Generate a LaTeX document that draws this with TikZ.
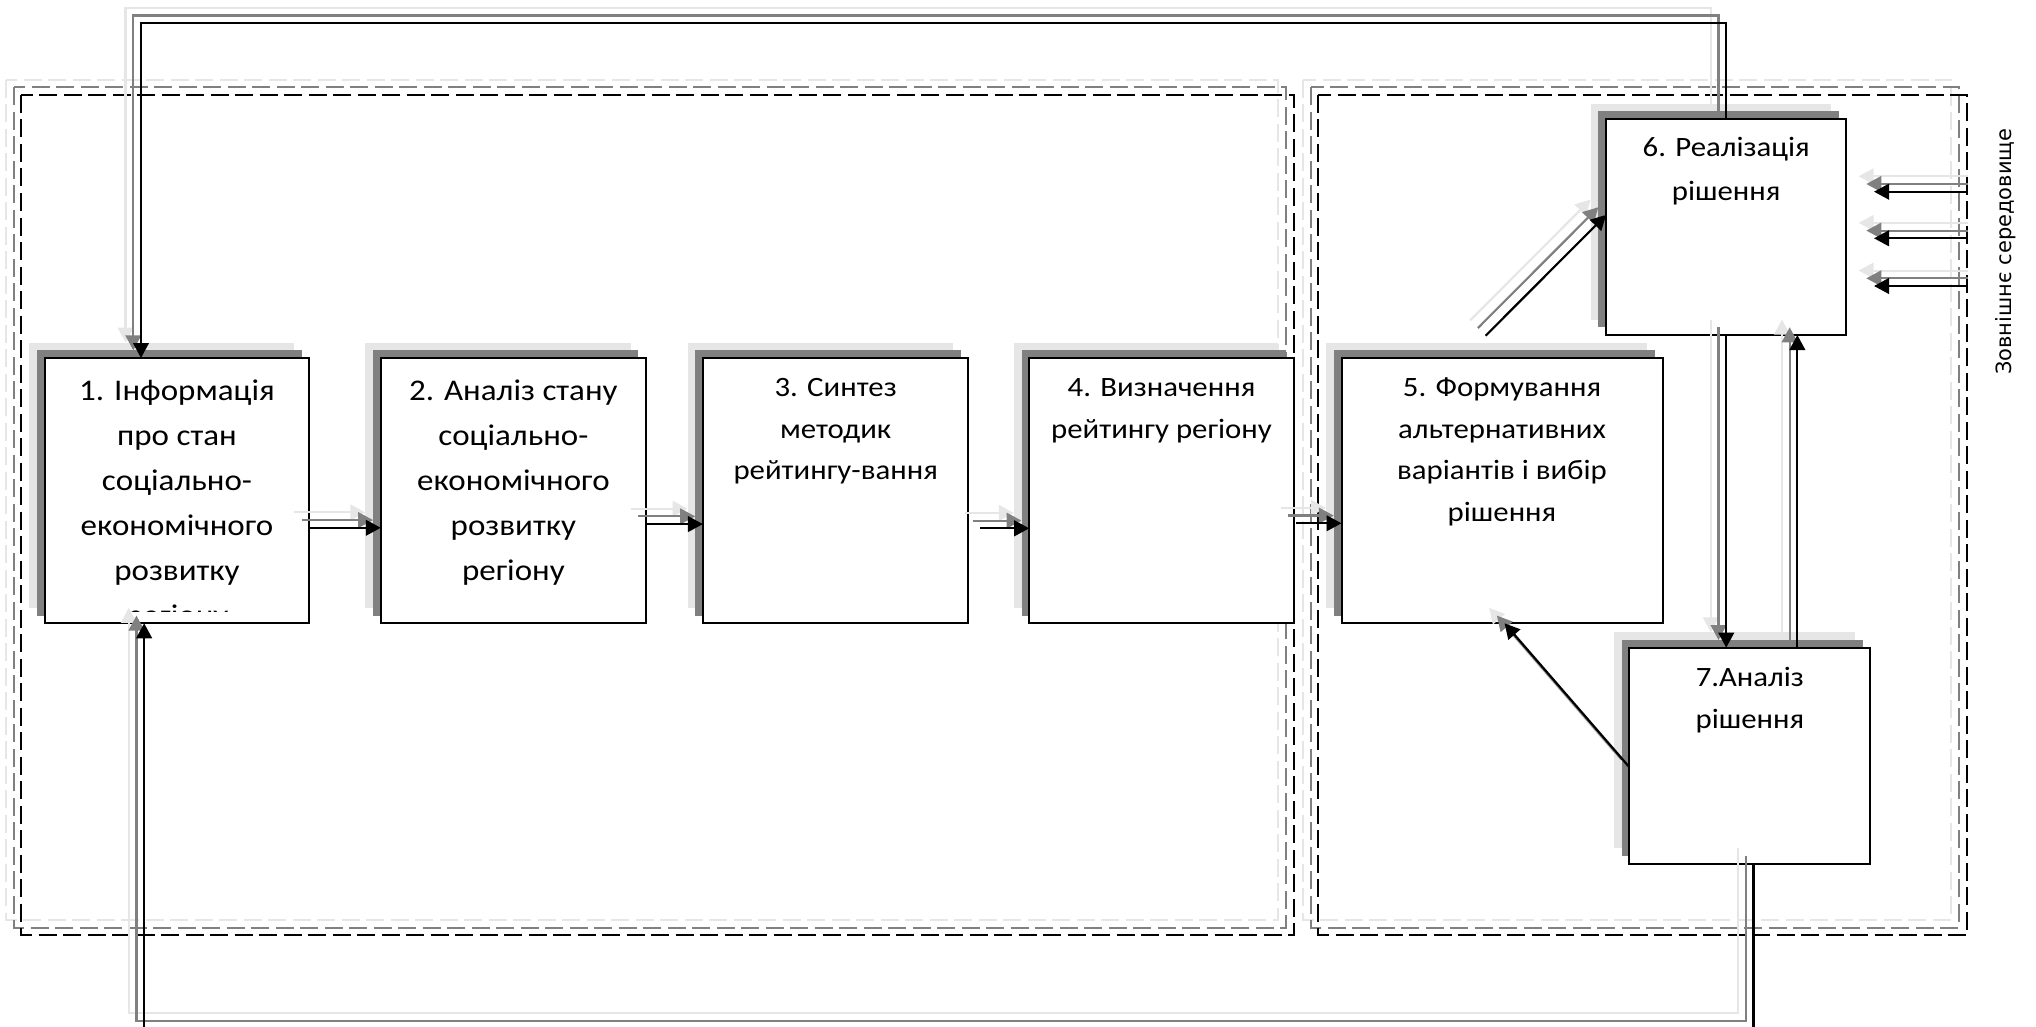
\documentclass[tikz,border=0pt]{standalone}
\usepackage{fontspec}
\setmainfont{Carlito}
\newfontfamily\boxfont[FakeStretch=1.1]{Carlito}
\newfontfamily\envfont{DejaVu Sans}
\usetikzlibrary{arrows.meta,calc}
\definecolor{shlight}{HTML}{E6E6E6}
\definecolor{shmid}{HTML}{808080}
\begin{document}
\begin{tikzpicture}[x=1pt,y=-1pt,
  every node/.style={inner sep=0pt,outer sep=0pt},
  frameline/.style={line width=2pt,dash pattern=on 18pt off 6.5pt},
  rowbox/.style={rectangle,minimum height=265.3pt},
  sidebox/.style={rectangle,minimum height=216pt},
  conn/.style={line width=2.2pt,-{Triangle[width=15.6pt,length=15pt]}},
  txtA/.style={anchor=north,align=center,font=\boxfont\fontsize{30}{45}\selectfont},
  txtB/.style={anchor=north,align=center,font=\boxfont\fontsize{28}{41.7}\selectfont},
  envlabel/.style={rotate=90,font=\envfont\fontsize{21}{26}\selectfont}
]
\useasboundingbox (0,0) rectangle (2036,1027);

% dashed frames (three layers)
\foreach \d/\col in {-15.4/shlight,-7.7/shmid,0/black}{
  \begin{scope}[shift={(\d,\d)}]
    \draw[frameline,draw=\col] (21.4,95) rectangle (1293.8,935.3);
    \draw[frameline,draw=\col] (1318.3,95) rectangle (1966.8,935.3);
  \end{scope}
}

% boxes (three layers)
\foreach \pre/\d/\fc/\dc in {L/-15.4/shlight/none,M/-7.7/shmid/none,K/0/white/black}{
  \begin{scope}[shift={(\d,\d)},name prefix=\pre-,
      every node/.append style={fill=\fc,draw=\dc,line width=2pt}]
    \node[rowbox,minimum width=264.8pt] (b1) at (177,490.65) {};
    \node[rowbox,minimum width=265.2pt] (b2) at (513.4,490.65) {};
    \node[rowbox,minimum width=265.5pt] (b3) at (835.65,490.65) {};
    \node[rowbox,minimum width=264.6pt] (b4) at (1161.5,490.65) {};
    \node[rowbox,minimum width=321pt] (b5) at (1502,490.65) {};
    \node[sidebox,minimum width=240.2pt] (b6) at (1726.2,227) {};
    \node[sidebox,minimum width=241.1pt] (b7) at (1749.85,755.7) {};
  \end{scope}
}

% texts
\begin{scope}
  \clip (K-b1.north west) rectangle ([yshift=11.5pt]K-b1.south east);
  \node[txtA] (t1) at ([yshift=-12.3pt]K-b1.north)
    {\rule{0pt}{30pt}1. Інформація\\про стан\\соціально-\\економічного\\розвитку\\регіону};
\end{scope}
\node[txtA] (t2) at ([yshift=-12.3pt]K-b2.north)
  {\rule{0pt}{30pt}2. Аналіз стану\\соціально-\\економічного\\розвитку\\регіону};
\node[txtB] (t3) at ([yshift=-8.5pt]K-b3.north)
  {\rule{0pt}{30pt}3. Синтез\\методик\\рейтингу-вання};
\node[txtB] (t4) at ([yshift=-8.5pt]K-b4.north)
  {\rule{0pt}{30pt}4. Визначення\\рейтингу регіону};
\node[txtB] (t5) at ([yshift=-8.5pt]K-b5.north)
  {\rule{0pt}{30pt}5. Формування\\альтернативних\\варіантів і вибір\\рішення};
\node[txtB,font=\boxfont\fontsize{28}{43.3}\selectfont] (t6) at ([yshift=-8pt]K-b6.north)
  {\rule{0pt}{30pt}6. Реалізація\\рішення};
\node[txtB] (t7) at ([yshift=-8.6pt]K-b7.north)
  {\rule{0pt}{30pt}7.Аналіз\\рішення};

\node[envlabel] (env) at (2006,251.7) {Зовнішнє середовище};

% connectors (three layers)
\foreach \pre/\d/\col/\ex in {L/-15.4/shlight/1983.4,M/-7.7/shmid/1975.7,K/0/black/1968}{
  \begin{scope}[shift={(\d,\d)},name prefix=\pre-,color=\col]
    \draw[conn] ($(b1.north east)!0.64!(b1.south east)$) -- ($(b2.north west)!0.64!(b2.south west)$);
    \draw[conn] ($(b2.north east)!0.626!(b2.south east)$) -- ($(b3.north west)!0.626!(b3.south west)$);
    \draw[conn] ($(b3.north east)!0.642!(b3.south east)$) ++(12,0) -- ($(b4.north west)!0.642!(b4.south west)$);
    \draw[conn] ($(b4.north east)!0.623!(b4.south east)$) ++(2.2,0) -- ($(b5.north west)!0.623!(b5.south west)$);
    \draw[conn] ($(b5.north west)!0.449!(b5.north east)$) ++(0,-22.3) -- ($(b6.north west)!0.444!(b6.south west)$);
    \draw[conn] ($(b7.north west)!0.553!(b7.south west)$) -- ($(b5.south west)!0.508!(b5.south east)$);
    \draw[conn] (b6.south) -- (b6.south |- b7.north);
    \coordinate (s76) at ($(b7.north west)!0.697!(b7.north east)$);
    \draw[conn] (s76) -- (s76 |- b6.south);
    \coordinate (t1) at ($(b1.north west)!0.364!(b1.north east)$);
    \draw[conn] (b6.north) -- ++(0,-95.7) -| (t1);
    \coordinate (s71) at ($(b7.south west)!0.515!(b7.south east)$);
    \coordinate (t1b) at ($(b1.south west)!0.376!(b1.south east)$);
    \draw[conn] (s71) -- ++(0,164.8) -| (t1b);
    \coordinate (e1) at (\ex,191.7);
    \coordinate (f1) at (1874,191.7);
    \coordinate (e2) at (\ex,238.3);
    \coordinate (f2) at (1874,238.3);
    \coordinate (e3) at (\ex,286);
    \coordinate (f3) at (1874,286);
    \draw[conn] (e1) -- (f1);
    \draw[conn] (e2) -- (f2);
    \draw[conn] (e3) -- (f3);
  \end{scope}
}
\end{tikzpicture}
\end{document}
